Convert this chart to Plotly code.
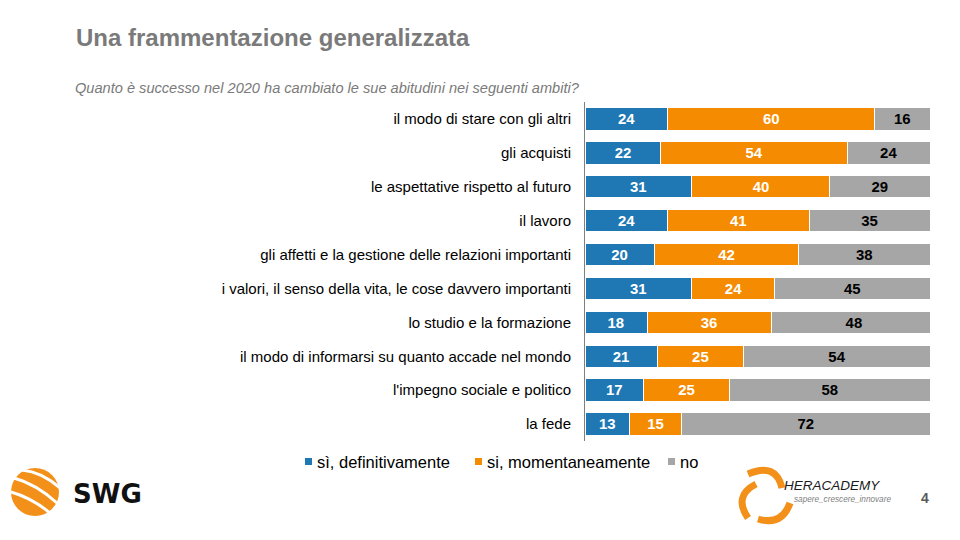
import plotly.graph_objects as go

categories = [
    "il modo di stare con gli altri",
    "gli acquisti",
    "le aspettative rispetto al futuro",
    "il lavoro",
    "gli affetti e la gestione delle relazioni importanti",
    "i valori, il senso della vita, le cose davvero importanti",
    "lo studio e la formazione",
    "il modo di informarsi su quanto accade nel mondo",
    "l'impegno sociale e politico",
    "la fede",
]
si_definitivamente = [24, 22, 31, 24, 20, 31, 18, 21, 17, 13]
si_momentaneamente = [60, 54, 40, 41, 42, 24, 36, 25, 25, 15]
no = [16, 24, 29, 35, 38, 45, 48, 54, 58, 72]

series = [
    ("sì, definitivamente", si_definitivamente, "#1F78B4", "white"),
    ("si, momentaneamente", si_momentaneamente, "#F58B00", "white"),
    ("no", no, "#A6A6A6", "black"),
]

L, R, T, B = 585, 30, 102, 99
PW = 960 - L - R
PH = 540 - T - B


def px(x):
    return (x - L) / PW


def py(y):
    return 1 - (y - T) / PH


fig = go.Figure()
for name, vals, color, tcol in series:
    fig.add_trace(go.Bar(
        y=categories, x=vals, name=name, orientation="h",
        marker=dict(color=color, line=dict(color="white", width=1)),
        text=[str(v) for v in vals], textposition="inside",
        insidetextanchor="middle", textangle=0,
        textfont=dict(family="Arial, Liberation Sans", size=15.5, color=tcol),
        texttemplate="<b>%{text}</b>",
        width=0.66, showlegend=False,
    ))

annotations = [
    dict(text="<b>Una frammentazione generalizzata</b>", x=px(74), y=py(37),
         xanchor="left", font=dict(size=24, color="#7A7A7A")),
    dict(text="<i>Quanto è successo nel 2020 ha cambiato le sue abitudini nei seguenti ambiti?</i>",
         x=px(73), y=py(88), xanchor="left", font=dict(size=14.6, color="#7A7A7A")),
    dict(text="<b>SWG</b>", x=px(71), y=py(494), xanchor="left",
         font=dict(size=26, color="#111111", family="DejaVu Sans")),
    dict(text="<i>HERACADEMY</i>", x=px(782), y=py(485), xanchor="left",
         font=dict(size=13.5, color="#1A1A1A")),
    dict(text="<i>sapere_crescere_innovare</i>", x=px(792), y=py(499), xanchor="left",
         font=dict(size=8.2, color="#808080")),
    dict(text="<b>4</b>", x=px(925), y=py(498), xanchor="center",
         font=dict(size=14, color="#595959")),
]

# manual legend (small square markers as in the reference)
legend_x = [305, 475, 668]
for (name, _, color, _), lx in zip(series, legend_x):
    fig.add_shape(type="rect", xref="paper", yref="paper",
                  x0=px(lx), x1=px(lx + 7), y0=py(465), y1=py(458),
                  fillcolor=color, line=dict(width=0))
    annotations.append(dict(text=name, x=px(lx + 10), y=py(462), xanchor="left",
                            font=dict(size=16.5, color="#000000")))

for a in annotations:
    a.update(xref="paper", yref="paper", yanchor="middle", showarrow=False)

fig.update_layout(
    width=960, height=540,
    barmode="stack",
    plot_bgcolor="white", paper_bgcolor="white",
    margin=dict(l=L, r=R, t=T, b=B),
    font=dict(family="Arial, Liberation Sans", color="#000000"),
    uniformtext=dict(minsize=8, mode="show"),
    xaxis=dict(range=[0, 100], visible=False, fixedrange=True),
    yaxis=dict(autorange="reversed", showline=True, linecolor="#7F7F7F",
               linewidth=1, ticks="", ticklabelstandoff=10,
               tickfont=dict(size=15, color="#000000",
                             family="Arial, Liberation Sans")),
    showlegend=False,
    annotations=annotations,
)

# SWG sphere
fig.add_shape(type="circle", xref="paper", yref="paper",
              x0=px(11), x1=px(59), y0=py(516), y1=py(468),
              fillcolor="#F39019", line=dict(width=0))
stripes = [
    [(14, 478), (36, 484), (57, 503)],
    [(11, 492), (32, 498), (50, 513)],
    [(22, 470), (42, 472), (60, 488)],
]
for (x0, y0), (xc, yc), (x1, y1) in stripes:
    fig.add_shape(type="path", xref="paper", yref="paper",
                  path=f"M {px(x0)} {py(y0)} Q {px(xc)} {py(yc)} {px(x1)} {py(y1)}",
                  line=dict(color="white", width=3))

# Heracademy swirl
swirl = [
    [(748, 474), (776, 462), (782, 488)],
    [(756, 484), (733, 496), (748, 518)],
    [(758, 519), (782, 526), (790, 503)],
]
for (x0, y0), (xc, yc), (x1, y1) in swirl:
    fig.add_shape(type="path", xref="paper", yref="paper",
                  path=f"M {px(x0)} {py(y0)} Q {px(xc)} {py(yc)} {px(x1)} {py(y1)}",
                  line=dict(color="#F39019", width=7))

fig.write_html("out.html", config={"displayModeBar": False},
               post_script="document.body.style.margin='0';document.body.style.padding='0';")
